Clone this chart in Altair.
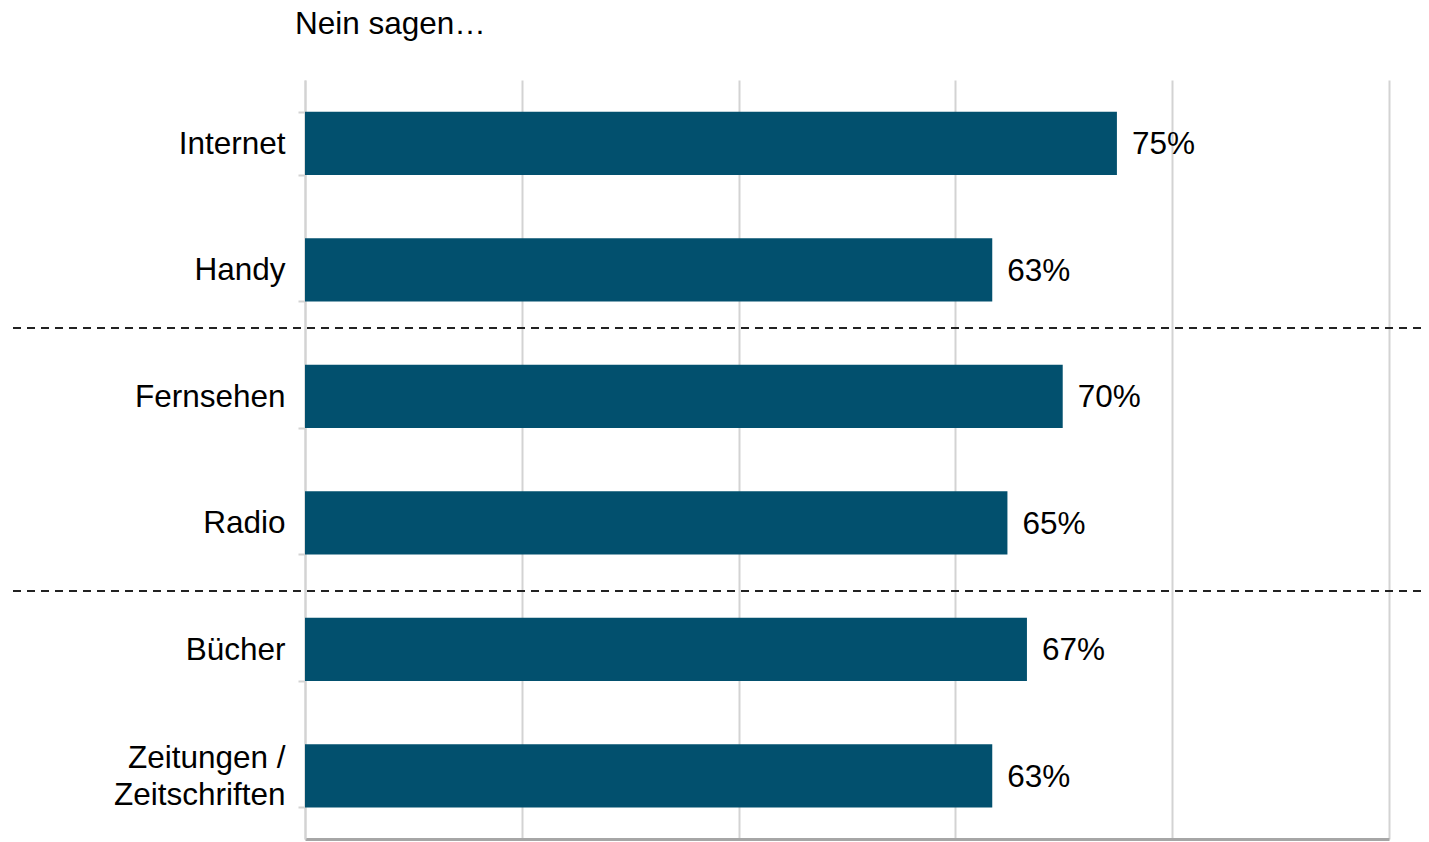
import altair as alt
import pandas as pd

categories = ["Internet", "Handy", "Fernsehen", "Radio", "Bücher", "Zeitungen / Zeitschriften"]
values = [74.9, 63.4, 69.9, 64.8, 66.6, 63.4]
value_labels = ["75%", "63%", "70%", "65%", "67%", "63%"]
title_text = "Nein sagen…"
separator_before = ["Fernsehen", "Bücher"]
x_grid = [0, 20, 40, 60, 80, 100]

FONT = "Liberation Sans"
BAR = "#02506E"
LIGHT = "#d3d3d3"

df = pd.DataFrame({"cat": categories, "val": values, "lab": value_labels})

yscale = alt.Scale(domain=categories, paddingInner=0.5, paddingOuter=0.25)
label_expr = ("datum.value == 'Zeitungen / Zeitschriften' ? "
              "['Zeitungen /', 'Zeitschriften'] : datum.label")

y_enc = alt.Y(
    "cat:N", scale=yscale, sort=categories,
    axis=alt.Axis(
        title=None, labelFont=FONT, labelFontSize=31.5, labelColor="black",
        labelPadding=13, tickSize=7, tickColor=LIGHT, tickWidth=2,
        domainColor=LIGHT, domainWidth=2, tickBand="extent", grid=False,
        labelExpr=label_expr, labelLineHeight=37,
        labelOffset={"condition": {"test": "datum.value == 'Zeitungen / Zeitschriften'",
                                   "value": -17}, "value": 1},
    ),
)
x_enc = alt.X(
    "val:Q", scale=alt.Scale(domain=[0, 100]),
    axis=alt.Axis(
        title=None, values=x_grid, labels=False, ticks=False, grid=True,
        gridColor=LIGHT, gridWidth=2, domainColor="#a6a6a6", domainWidth=3,
    ),
)

bars = alt.Chart(df).mark_bar(color=BAR).encode(x=x_enc, y=y_enc)

texts = alt.Chart(df).mark_text(
    align="left", baseline="middle", dx=15, dy=2, font=FONT, fontSize=31.5, color="black"
).encode(
    x=alt.X("val:Q"),
    y=alt.Y("cat:N", scale=yscale, sort=categories),
    text="lab:N",
)

sep1 = alt.Chart(pd.DataFrame({"cat": [separator_before[0]]})).mark_rule(
    strokeDash=[8, 6], color="#222222", strokeWidth=2, yOffset=-36.6
).encode(
    y=alt.Y("cat:N", scale=yscale, sort=categories, bandPosition=0),
    x=alt.value(-292), x2=alt.value(1140),
)
sep2 = alt.Chart(pd.DataFrame({"cat": [separator_before[1]]})).mark_rule(
    strokeDash=[8, 6], color="#222222", strokeWidth=2, yOffset=-26.6
).encode(
    y=alt.Y("cat:N", scale=yscale, sort=categories, bandPosition=0),
    x=alt.value(-292), x2=alt.value(1140),
)

title = alt.Chart(pd.DataFrame({"t": [title_text]})).mark_text(
    align="left", baseline="alphabetic", font=FONT, fontSize=31.5, color="black"
).encode(text="t:N", x=alt.value(-10), y=alt.value(-46))

chart = alt.layer(bars, texts, sep1, sep2, title).properties(
    width=1084, height=759,
    autosize=alt.AutoSizeParams(type="none"),
    padding={"left": 297, "top": 72, "right": 32, "bottom": 3},
).configure_view(stroke=None)

chart.save("out.html", embed_options={"renderer": "svg", "actions": False})
